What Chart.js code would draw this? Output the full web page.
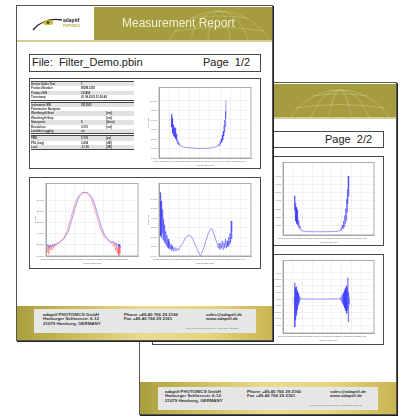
<!DOCTYPE html>
<html>
<head>
<meta charset="utf-8">
<script src="https://cdn.jsdelivr.net/npm/chart.js@4.4.1/dist/chart.umd.min.js"></script>
<style>
  html, body { margin: 0; padding: 0; }
  body { width: 400px; height: 416px; position: relative; overflow: hidden; background: #fff;
         font-family: "Liberation Sans", Arial, sans-serif; }
  .page { position: absolute; background: #fff; border: 1px solid #555; box-shadow: 1px 1px 0 #222; box-sizing: border-box; }
  .olive { position: absolute; background: #a49c3e; overflow: hidden; }
  .rule { position: absolute; height: 2px; background: #d2cc95; }
  .box { position: absolute; border: 1px solid #4a4a4a; box-sizing: border-box; background: #fff; }
  .big { position: absolute; font-size: 11px; line-height: 11px; color: #222; white-space: pre; }
  .foot { position: absolute; overflow: hidden;
          background: linear-gradient(90deg, #a99f3d 0%, #cbbb5c 22%, #eadb92 50%, #e6d47f 75%, #c9b552 100%); }
  .footin { position: absolute; background: #e6e6e6; }
  .ft { position: absolute; font-size: 4.4px; line-height: 4.5px; font-weight: bold; color: #333; white-space: pre; }
  .tiny { position: absolute; font-size: 2.2px; line-height: 2.4px; color: #666; white-space: pre; }
  .tbl { position: absolute; width: 103px; }
  .blk { border-top: 1px solid #444; border-bottom: 1px solid #444; margin-bottom: 1px; }
  .row { position: relative; height: 4.4px; font-size: 2.8px; line-height: 4.4px; font-weight: bold; color: #333; white-space: pre; }
  .row.sh { background: #e2e2e2; }
  .row span { position: absolute; top: 0; }
  canvas { position: absolute; }
</style>
</head>
<body>

<!-- page 2 (behind) -->
<div class="page" style="left:139px;top:82px;width:258px;height:333px;"></div>
<div class="olive" style="left:140px;top:84px;width:256px;height:33px;">
  <svg width="256" height="33" style="position:absolute;left:0;top:0">
    <g fill="none" stroke="rgba(255,255,230,0.4)" stroke-width="0.6">
      <circle cx="200" cy="64" r="58"/>
      <ellipse cx="200" cy="64" rx="34" ry="58"/>
      <ellipse cx="200" cy="64" rx="13" ry="58"/>
      <path d="M146 40 Q200 30 254 40"/>
      <path d="M156 24 Q200 17 244 24"/>
      <path d="M172 12 Q200 8 228 12"/>
    </g>
  </svg>
</div>
<div class="rule" style="left:140px;top:117px;width:256px;"></div>
<div class="box" style="left:152px;top:131px;width:232px;height:17px;"></div>
<div class="big" style="left:325px;top:134px;">Page  2/2</div>
<div class="box" style="left:152px;top:156px;width:232px;height:90px;"></div>
<div class="box" style="left:152px;top:254px;width:232px;height:91px;"></div>
<canvas id="c4" width="105" height="84" style="left:271px;top:160px;"></canvas>
<canvas id="c5" width="105" height="84" style="left:271px;top:258px;"></canvas>
<div class="foot" style="left:140px;top:382px;width:256px;height:32px;"></div>
<div class="footin" style="left:158px;top:387px;width:220px;height:23px;"></div>
<div class="ft" style="left:165px;top:389.5px;">adaptif PHOTONICS GmbH
Harburger Schlossstr. 6-12
21079 Hamburg, GERMANY</div>
<div class="ft" style="left:247px;top:389.5px;">Phone +49-40 766 29 2160
Fax +49-40 766 29 2161</div>
<div class="ft" style="left:330px;top:389.5px;">sales@adaptif.de
www.adaptif.de</div>
<div class="tiny" style="left:310px;top:404px;">Filter_Demo.pbf  generated on:  2008/02/05  15:36:56</div>

<!-- page 1 (front) -->
<div class="page" style="left:16px;top:5px;width:257px;height:336px;"></div>
<svg width="54" height="18" style="position:absolute;left:32px;top:14px">
  <path d="M1 16 Q12 3 30 6" fill="none" stroke="#222" stroke-width="1.3"/>
  <ellipse cx="16" cy="8.5" rx="5" ry="2.6" fill="#c9b735"/>
  <circle cx="16" cy="8.5" r="1.3" fill="#333"/>
  <text x="31" y="8" font-size="5" font-weight="bold" fill="#222" font-family="Liberation Sans">adaptif</text>
  <text x="31" y="12.5" font-size="2.8" font-weight="bold" fill="#b3a33a" font-family="Liberation Sans">PHOTONICS</text>
</svg>
<div class="olive" style="left:94px;top:7px;width:178px;height:33px;">
  <svg width="178" height="33" style="position:absolute;left:0;top:0">
    <g fill="none" stroke="rgba(255,255,230,0.35)" stroke-width="0.6">
      <circle cx="125" cy="62" r="58"/>
      <ellipse cx="125" cy="62" rx="34" ry="58"/>
      <ellipse cx="125" cy="62" rx="13" ry="58"/>
      <path d="M70 40 Q125 30 180 40"/>
      <path d="M80 24 Q125 17 170 24"/>
      <path d="M96 11 Q125 7 154 11"/>
    </g>
  </svg>
  <div style="position:absolute;left:28px;top:10px;font-size:12px;line-height:13px;color:#f4f0d4;white-space:pre;">Measurement Report</div>
</div>
<div class="rule" style="left:17px;top:40px;width:255px;"></div>
<div class="box" style="left:29px;top:54px;width:232px;height:18px;"></div>
<div class="big" style="left:32px;top:57px;">File:  Filter_Demo.pbin</div>
<div class="big" style="left:203px;top:57px;">Page  1/2</div>
<div class="box" style="left:29px;top:78px;width:232px;height:91px;"></div>
<div class="box" style="left:29px;top:177px;width:232px;height:92px;"></div>
<div class="tbl" id="info" style="left:31px;top:81px;"></div>
<canvas id="c1" width="106" height="82" style="left:147px;top:85px;"></canvas>
<canvas id="c2" width="106" height="84" style="left:34px;top:181px;"></canvas>
<canvas id="c3" width="106" height="84" style="left:147px;top:181px;"></canvas>
<div class="foot" style="left:17px;top:306px;width:255px;height:34px;"></div>
<div class="footin" style="left:34px;top:309px;width:222px;height:24px;"></div>
<div class="ft" style="left:43px;top:312.7px;">adaptif PHOTONICS GmbH
Harburger Schlossstr. 6-12
21079 Hamburg, GERMANY</div>
<div class="ft" style="left:124px;top:312.7px;">Phone +49-40 766 29 2160
Fax +49-40 766 29 2161</div>
<div class="ft" style="left:206px;top:312.7px;">sales@adaptif.de
www.adaptif.de</div>
<div class="tiny" style="left:186px;top:327px;">Filter_Demo.pbf  generated on:  2008/02/05  15:36:56</div>

<script>
// measurement table, three blocks
const infoBlocks = [
  [['Device Under Test', '1', ''], ['Product Number', 'WDM-1550', ''], ['Product S/N', '123456', ''],
   ['Timestamp', '20.08.2022 21:24:48', '']],
  [['Instrument S/N', '0313001', ''], ['Polarization Navigator', '', ''], ['Wavelength Start', '', '[nm]'],
   ['Wavelength Stop', '', '[nm]'], ['Sweepsets', '5', '[#/nm]'], ['Resolution', '0.010', '[nm]'],
   ['Lambda Logging', 'on', '']],
  [['PMD', '0.730', '[ps]'], ['PSL (avg)', '3.404', '[dB]'], ['Loss', '-11.50', '[dB]']]
];

// page 1, top chart (PDL)
const pdlWl = [1512.4, 1512.6, 1512.8, 1513.0, 1513.3, 1513.6, 1513.9, 1514.2, 1514.5, 1514.8, 1515.1, 1515.4,
  1515.7, 1516.0, 1516.3, 1516.6, 1516.9, 1517.2, 1517.6, 1518.0, 1518.5, 1519.0, 1519.6, 1520.3, 1521.2, 1522.5,
  1524, 1526, 1528, 1531, 1534, 1538, 1542, 1546, 1549, 1551, 1553, 1555, 1556.5, 1557.5, 1558.3, 1559, 1559.8,
  1560.4, 1561.0, 1561.5, 1562.0, 1562.5, 1563.0, 1563.4, 1563.8, 1564.2, 1564.6, 1564.9, 1565.2, 1565.5, 1565.7];
const pdlDb = [7.2, 4.5, 6.3, 3.8, 5.6, 3.2, 5.0, 2.6, 4.6, 3.0, 4.2, 2.4,
  4.4, 2.2, 3.6, 2.0, 3.1, 1.6, 2.2, 1.1, 1.6, 0.8, 1.2, 0.6, 0.7, 0.35,
  0.4, 0.2, 0.25, 0.1, 0.08, 0.02, 0.0, 0.02, 0.05, 0.15, 0.25, 0.3, 0.5, 0.4, 0.9, 0.6, 1.4,
  0.9, 2.0, 1.3, 2.8, 1.8, 3.6, 2.6, 4.8, 3.4, 6.0, 4.6, 7.8, 6.2, 10.1];

// page 1, bottom left chart (transmission, two sweeps)
const lossWlA = [1500.7, 1501.5, 1502.3, 1503.1, 1504.0, 1505.0, 1506.0, 1507.0, 1508.0, 1509.0, 1510.0, 1511.0,
  1513.0, 1515.0, 1518.0, 1520.5, 1523.3, 1525.0, 1526.8, 1528.5, 1530.2, 1532.0, 1533.6, 1535.5, 1537.2, 1539.0,
  1540.6, 1542.3, 1544.0, 1545.8, 1547.6, 1549.3, 1551.0, 1552.8, 1554.5, 1556.3, 1558.0, 1560.5, 1563.2, 1566.5,
  1568.0, 1569.5, 1570.1, 1571.0, 1572.0, 1573.0, 1574.0, 1575.0, 1576.0, 1576.6, 1577.0];
const lossDbA = [-51.2, -49.8, -52.0, -50.0, -52.5, -50.2, -51.6, -49.6, -51.0, -49.3, -50.2, -49.0,
  -48.2, -47.0, -45.2, -42.0, -37.8, -33.0, -27.6, -22.5, -17.6, -12.8, -9.0, -6.0, -4.4, -3.3,
  -3.0, -3.2, -3.9, -5.3, -7.4, -10.6, -14.7, -19.6, -24.9, -30.2, -35.2, -40.3, -43.9, -46.4,
  -47.8, -47.0, -48.5, -47.6, -49.8, -48.4, -50.6, -49.2, -51.5, -50.0, -52.7];
const lossWlB = [1500.7, 1501.3, 1502.0, 1502.8, 1503.6, 1504.5, 1505.4, 1506.3, 1507.2, 1508.2, 1509.2, 1510.5,
  1512.0, 1514.0, 1516.5, 1519.0, 1521.8, 1523.5, 1525.3, 1527.0, 1528.7, 1530.5, 1532.1, 1534.0, 1535.7, 1537.5,
  1539.1, 1540.8, 1542.5, 1544.3, 1546.1, 1547.8, 1549.5, 1551.3, 1553.0, 1554.8, 1556.5, 1559.0, 1561.7, 1565.0,
  1567.5, 1569.5, 1570.5, 1571.5, 1572.5, 1573.3, 1574.2, 1575.0, 1575.8, 1576.5, 1577.0];
const lossDbB = [-52.5, -56.5, -51.6, -58.5, -52.0, -55.0, -51.2, -54.2, -50.6, -52.6, -50.0, -50.4,
  -49.2, -48.0, -46.0, -43.0, -38.0, -33.0, -27.6, -22.5, -17.6, -12.8, -9.0, -6.0, -4.4, -3.3,
  -3.0, -3.2, -3.9, -5.3, -7.4, -10.6, -14.7, -19.6, -24.9, -30.2, -35.2, -40.3, -43.9, -46.6,
  -48.4, -49.0, -51.5, -49.6, -55.0, -50.6, -57.5, -51.6, -60.0, -52.5, -58.0];

// page 1, bottom right chart (PMD)
const pmdWl = [1501.2, 1501.6, 1502.0, 1502.4, 1502.8, 1503.2, 1503.6, 1504.0, 1504.5, 1505.0, 1505.5, 1506.0,
  1506.6, 1507.2, 1507.8, 1508.4, 1509.0, 1509.6, 1510.3, 1511.0, 1511.8, 1512.6, 1513.5, 1514.4, 1515.5, 1516.6,
  1517.8, 1519.0, 1520.2, 1522.0, 1524.0, 1526.0, 1528.0, 1529.5, 1531.0, 1533.0, 1535.0, 1537.0, 1539.0, 1540.5,
  1542.0, 1544.0, 1546.0, 1548.0, 1550.0, 1551.5, 1553.0, 1554.5, 1556.0, 1557.2, 1558.0, 1558.8, 1559.6, 1560.4,
  1561.2, 1562.0, 1562.8, 1563.6, 1564.4, 1565.2, 1566.0, 1566.8, 1567.6, 1568.4, 1569.0, 1569.6, 1570.2, 1570.8,
  1571.2, 1571.5];
const pmdPs = [6.7, 2.1, 5.8, 1.9, 4.6, 2.4, 4.9, 1.7, 3.9, 1.5, 3.3, 1.3,
  2.6, 1.1, 2.2, 0.9, 1.8, 0.8, 1.5, 0.7, 1.2, 0.6, 1.0, 0.5, 0.9, 0.5,
  0.8, 0.6, 0.9, 1.1, 1.5, 1.9, 2.15, 2.2, 2.1, 1.8, 1.3, 0.8, 0.3, 0.05,
  0.3, 0.9, 1.6, 2.3, 2.75, 2.9, 2.6, 2.1, 1.6, 1.3, 0.9, 1.4, 0.7, 1.3,
  0.8, 1.6, 0.7, 1.4, 0.9, 1.8, 0.8, 1.6, 1.0, 2.0, 1.2, 2.4, 1.4, 3.7,
  1.8, 2.6];

// page 2, top chart (PDL)
const pdl2Wl = [1511.6, 1511.9, 1512.2, 1512.5, 1512.8, 1513.1, 1513.5, 1513.9, 1514.3, 1514.7, 1515.1, 1515.5,
  1516.0, 1516.6, 1517.3, 1518.5, 1520, 1525, 1530, 1540, 1550, 1556, 1558.2, 1559.2, 1559.9, 1560.6, 1561.2,
  1561.8, 1562.4, 1563.0, 1563.5, 1564.0, 1564.5, 1565.0, 1565.4, 1565.8, 1566.1, 1566.6, 1567.0, 1567.3];
const pdl2Db = [4.6, 2.8, 4.2, 2.0, 3.7, 1.5, 3.2, 1.2, 2.9, 1.0, 2.4, 0.8,
  1.6, 0.6, 0.9, 0.35, 0.3, 0.22, 0.2, 0.2, 0.22, 0.25, 0.35, 0.6, 0.4, 1.0, 0.6,
  1.5, 0.8, 2.2, 1.2, 3.0, 1.6, 4.2, 2.6, 5.4, 3.6, 7.0, 4.5, 5.6];

// page 2, bottom chart (DGD deviation)
const dgdWl = [1511.5, 1511.9, 1512.2, 1512.5, 1512.8, 1513.1, 1513.4, 1513.7, 1514.0, 1514.3, 1514.6, 1514.9,
  1515.2, 1515.5, 1515.8, 1516.1, 1516.4, 1516.8, 1517.2, 1518, 1520, 1530, 1540, 1550, 1556, 1558, 1559, 1559.6,
  1560.2, 1560.8, 1561.4, 1562.0, 1562.5, 1563.0, 1563.5, 1564.0, 1564.5, 1565.0, 1565.5, 1566.0, 1566.3, 1566.6,
  1567.0, 1567.4, 1567.7];
const dgdPs = [0.3, 2.5, -4.3, 1.8, -3.2, 1.6, -2.6, 1.9, -2.2, 1.2, -1.7, 1.4,
  -1.2, 0.9, -0.9, 0.6, -0.5, 0.4, -0.2, 0.1, 0, 0, 0, 0, 0.05, -0.1, 0.3, -0.4,
  0.6, -0.7, 0.9, -1.0, 1.3, -1.4, 1.6, -1.8, 2.0, -2.2, 1.6, -1.7, 3.3, -3.5,
  1.0, -0.8, 0.2];

// build the table
const info = document.getElementById('info');
infoBlocks.forEach(rows => {
  const blk = document.createElement('div');
  blk.className = 'blk';
  rows.forEach((r, i) => {
    const row = document.createElement('div');
    row.className = i % 2 === 0 ? 'row sh' : 'row';
    [0, 50, 75].forEach((x, k) => {
      const s = document.createElement('span');
      s.style.left = x + 'px';
      s.textContent = r[k];
      row.appendChild(s);
    });
    blk.appendChild(row);
  });
  info.appendChild(blk);
});

// gray frame round the plot area
const frameBox = {
  id: 'frameBox',
  afterDraw(chart) {
    const { ctx, chartArea: a } = chart;
    ctx.save();
    ctx.strokeStyle = '#9a9a9a';
    ctx.lineWidth = 0.8;
    ctx.strokeRect(a.left, a.top, a.right - a.left, a.bottom - a.top);
    ctx.restore();
  }
};

const pts = (xs, ys) => xs.map((x, i) => ({ x: x, y: ys[i] }));
const blue = 'rgba(45,45,255,0.8)';
const red = 'rgba(255,70,70,0.75)';
const small = { family: 'Liberation Sans', size: 2.4 };

function makePlot(id, datasets, xMax, y) {
  return new Chart(document.getElementById(id), {
    type: 'line',
    data: { datasets: datasets },
    options: {
      responsive: false,
      animation: false,
      events: [],
      layout: { padding: { top: 1, right: 2, left: 0, bottom: 0 } },
      plugins: { legend: { display: false }, tooltip: { enabled: false } },
      elements: { point: { radius: 0 }, line: { borderWidth: 0.6, tension: 0 } },
      scales: {
        x: {
          type: 'linear', min: 1500, max: xMax,
          afterBuildTicks: s => { s.ticks = s.ticks.filter(t => t.value <= 1580.01); },
          afterFit: s => { s.height = 9; },
          ticks: { stepSize: 10, autoSkip: false, maxRotation: 0, padding: 1, font: small, color: '#666',
                   callback: v => v.toFixed(3) },
          grid: { color: '#e4e4e4', lineWidth: 0.5, tickLength: 1 },
          border: { color: '#9a9a9a', width: 0.8 },
          title: { display: true, text: 'Wavelength [nm]', font: small, color: '#666', padding: 0 }
        },
        y: {
          min: y.min, max: y.max,
          afterBuildTicks: s => { s.ticks = s.ticks.filter(t => t.value >= y.lo - 0.01 && t.value <= y.hi + 0.01); },
          afterFit: s => { s.width = 12; },
          ticks: { stepSize: y.step, autoSkip: false, padding: 1, font: small, color: '#666',
                   callback: v => v.toFixed(3) },
          grid: { color: '#e4e4e4', lineWidth: 0.5, tickLength: 1 },
          border: { color: '#9a9a9a', width: 0.8 },
          title: { display: true, text: y.title, font: small, color: '#666', padding: 0 }
        }
      }
    },
    plugins: [frameBox]
  });
}

makePlot('c1', [{ data: pts(pdlWl, pdlDb), borderColor: blue }], 1590.2,
  { min: -2, max: 12.85, step: 2, lo: -2, hi: 10, title: 'PDL [dB]' });
makePlot('c2', [{ data: pts(lossWlB, lossDbB), borderColor: red },
                { data: pts(lossWlA, lossDbA), borderColor: blue }], 1595.8,
  { min: -60, max: 4.9, step: 10, lo: -60, hi: -10, title: 'IL [dB]' });
makePlot('c3', [{ data: pts(pmdWl, pmdPs), borderColor: blue }], 1590.2,
  { min: 0, max: 7.65, step: 1, lo: 0, hi: 6, title: 'PMD [ps]' });
makePlot('c4', [{ data: pts(pdl2Wl, pdl2Db), borderColor: blue }], 1592.9,
  { min: -0.2, max: 8.68, step: 1, lo: 0, hi: 7, title: 'PDL [dB]' });
makePlot('c5', [{ data: pts(dgdWl, dgdPs), borderColor: blue }], 1592.9,
  { min: -5.2, max: 5.9, step: 1, lo: -5, hi: 4, title: 'DGD [ps]' });
</script>
</body>
</html>
